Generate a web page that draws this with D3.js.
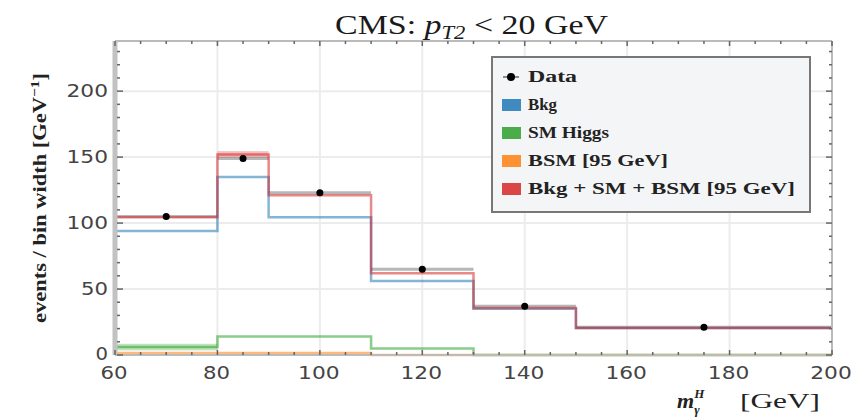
<!DOCTYPE html>
<html>
<head>
<meta charset="utf-8">
<script src="https://cdn.jsdelivr.net/npm/d3@7"></script>
<style>
  html, body { margin: 0; padding: 0; background: #fff; }
  svg { display: block; }
</style>
</head>
<body>
<svg id="chart" width="851" height="419"></svg>
<script>
// Bin edges of the diphoton mass histogram (GeV)
const binEdges = [60, 80, 90, 110, 130, 150, 200];
// Per-bin values, events / bin width
const dataValues  = [105, 149, 123, 65, 37, 21];
const dataErrors  = [1.5, 2.5, 2, 1.5, 1.5, 1];
const bkgValues   = [94, 135, 104.5, 56, 35, 20.5];
const smValues    = [6, 14, 14, 5, 0, 0];
const bsmValues   = [1.5, 1.5, 1.5, 0, 0, 0];
const totalValues = [104.5, 152, 121, 62, 35.6, 20.5];
// Uncertainty half-widths drawn as light bands
const smBand      = [2.5, 0, 0, 0, 0, 0];
const totalBand   = [0, 2.5, 0, 0, 0, 0];

const xTicks = [60, 80, 100, 120, 140, 160, 180, 200];
const yTicks = [0, 50, 100, 150, 200];
const legendLabels = ["Data", "Bkg", "SM Higgs", "BSM [95 GeV]", "Bkg + SM + BSM [95 GeV]"];
const legendColors = [null, "#1f77b4", "#2ca02c", "#ff7f0e", "#d62728"];

const svg = d3.select("#chart");
const plot = { left: 115, right: 832, top: 41, bottom: 355 };

const x = d3.scaleLinear().domain([60, 200]).range([plot.left, plot.right]);
const y = d3.scaleLinear().domain([0, 238]).range([plot.bottom, plot.top]);

// grid
const grid = svg.append("g");
grid.selectAll(".gx").data(xTicks.slice(1, -1)).join("line")
  .attr("x1", d => x(d)).attr("x2", d => x(d))
  .attr("y1", plot.top).attr("y2", plot.bottom)
  .attr("stroke", "#ececec").attr("stroke-width", 2);
grid.selectAll(".gy").data(yTicks.slice(1)).join("line")
  .attr("x1", plot.left).attr("x2", plot.right)
  .attr("y1", d => y(d)).attr("y2", d => y(d))
  .attr("stroke", "#ececec").attr("stroke-width", 2);

// step path from per-bin values
function stepPath(vals) {
  const p = d3.path();
  vals.forEach((v, i) => {
    if (i === 0) p.moveTo(x(binEdges[0]), y(v));
    else p.lineTo(x(binEdges[i]), y(v));
    p.lineTo(x(binEdges[i + 1]), y(v));
  });
  return p.toString();
}

const marks = svg.append("g");

// uncertainty bands
function bands(vals, errs, color) {
  marks.append("g").selectAll("rect")
    .data(vals.map((v, i) => ({ v, e: errs[i], i })).filter(d => d.e > 0))
    .join("rect")
    .attr("x", d => x(binEdges[d.i]))
    .attr("width", d => x(binEdges[d.i + 1]) - x(binEdges[d.i]))
    .attr("y", d => y(d.v + d.e))
    .attr("height", d => y(d.v - d.e) - y(d.v + d.e))
    .attr("fill", color).attr("opacity", 0.3);
}
bands(smValues, smBand, "#2ca02c");
bands(totalValues, totalBand, "#d62728");

// data horizontal bars spanning each bin
marks.append("g").selectAll("line")
  .data(dataValues.map((v, i) => ({ v, i })))
  .join("line")
  .attr("x1", d => x(binEdges[d.i])).attr("x2", d => x(binEdges[d.i + 1]))
  .attr("y1", d => y(d.v)).attr("y2", d => y(d.v))
  .attr("stroke", "#888").attr("stroke-width", 3).attr("opacity", 0.6);

const series = [
  { vals: bsmValues, color: "#ff7f0e" },
  { vals: smValues, color: "#2ca02c" },
  { vals: bkgValues, color: "#1f77b4" },
  { vals: totalValues, color: "#d62728" }
];
series.forEach(s => {
  marks.append("path").attr("d", stepPath(s.vals))
    .attr("fill", "none").attr("stroke", s.color)
    .attr("stroke-width", 2.5).attr("opacity", 0.55);
});

// data points and vertical errors
const centers = dataValues.map((v, i) => ({ v, e: dataErrors[i], c: (binEdges[i] + binEdges[i + 1]) / 2 }));
marks.append("g").selectAll("line").data(centers).join("line")
  .attr("x1", d => x(d.c)).attr("x2", d => x(d.c))
  .attr("y1", d => y(d.v + d.e)).attr("y2", d => y(d.v - d.e))
  .attr("stroke", "#444").attr("stroke-width", 1.5);
marks.append("g").selectAll("circle").data(centers).join("circle")
  .attr("cx", d => x(d.c)).attr("cy", d => y(d.v)).attr("r", 3.5)
  .attr("fill", "#000");

// frame
const frame = svg.append("g");
frame.append("line").attr("x1", plot.left).attr("x2", plot.right).attr("y1", plot.top).attr("y2", plot.top)
  .attr("stroke", "#bbb").attr("stroke-width", 2);
frame.append("line").attr("x1", plot.left).attr("x2", plot.right).attr("y1", plot.bottom).attr("y2", plot.bottom)
  .attr("stroke", "#bbb").attr("stroke-width", 2);
frame.append("line").attr("x1", plot.right).attr("x2", plot.right).attr("y1", plot.top).attr("y2", plot.bottom)
  .attr("stroke", "#bbb").attr("stroke-width", 2);
frame.append("line").attr("x1", plot.left).attr("x2", plot.left).attr("y1", plot.top).attr("y2", plot.bottom)
  .attr("stroke", "#c2c2c2").attr("stroke-width", 5);

// ticks (inward, all four sides)
const xMinor = d3.range(60, 201, 5);
const yMinor = d3.range(0, 238, 10);
const tk = svg.append("g").attr("stroke", "#666").attr("stroke-width", 1.5);
xMinor.forEach(v => {
  const len = v % 20 === 0 ? 5 : 3;
  tk.append("line").attr("x1", x(v)).attr("x2", x(v)).attr("y1", plot.bottom).attr("y2", plot.bottom - len);
  tk.append("line").attr("x1", x(v)).attr("x2", x(v)).attr("y1", plot.top).attr("y2", plot.top + len);
});
yMinor.forEach(v => {
  const len = v % 50 === 0 ? 6 : 3;
  tk.append("line").attr("x1", plot.left + 2).attr("x2", plot.left + 2 + len).attr("y1", y(v)).attr("y2", y(v));
  tk.append("line").attr("x1", plot.right).attr("x2", plot.right - len).attr("y1", y(v)).attr("y2", y(v));
});

// tick labels (wide digits)
const tickFont = "'DejaVu Sans', sans-serif";
const digitW = 14.5;
svg.append("g").selectAll("text").data(xTicks).join("text")
  .attr("x", d => x(d) - String(d).length * digitW / 2).attr("y", 379)
  .attr("font-family", tickFont).attr("font-size", 17)
  .attr("textLength", d => String(d).length * digitW - 2).attr("lengthAdjust", "spacingAndGlyphs")
  .attr("fill", "#444").text(d => d);
svg.append("g").selectAll("text").data(yTicks).join("text")
  .attr("x", d => 110 - String(d).length * digitW).attr("y", d => y(d) + 6 - (d === 0 ? 1 : 0))
  .attr("font-family", tickFont).attr("font-size", 17)
  .attr("textLength", d => String(d).length * digitW - 2).attr("lengthAdjust", "spacingAndGlyphs")
  .attr("fill", "#444").text(d => d);

const serif = "'Liberation Serif', 'Times New Roman', serif";

// title
const title = svg.append("text").attr("x", 335).attr("y", 34)
  .attr("font-family", serif).attr("font-size", 27)
  .attr("fill", "#1a1a1a")
  .attr("textLength", 273).attr("lengthAdjust", "spacingAndGlyphs");
title.append("tspan").text("CMS: ");
title.append("tspan").attr("font-style", "italic").text("p");
title.append("tspan").attr("font-style", "italic").attr("font-size", 18).attr("dy", 5).text("T2");
title.append("tspan").attr("dy", -5).text(" < 20 GeV");

// y label
const yl = svg.append("text")
  .attr("transform", "translate(46,73) rotate(-90)")
  .attr("x", -250)
  .attr("font-family", serif).attr("font-size", 19)
  .attr("font-weight", "bold").attr("fill", "#222")
  .attr("textLength", 250).attr("lengthAdjust", "spacingAndGlyphs");
yl.append("tspan").text("events / bin width [GeV");
yl.append("tspan").attr("font-size", 13).attr("dy", -7).text("−1");
yl.append("tspan").attr("dy", 7).text("]");

// x label
const xl = svg.append("text").attr("x", 677).attr("y", 408)
  .attr("font-family", serif).attr("font-size", 22).attr("fill", "#222");
xl.append("tspan").attr("font-style", "italic").attr("font-weight", "bold").text("m");
xl.append("tspan").attr("font-style", "italic").attr("font-size", 13).attr("dy", -10).attr("font-weight", "bold").text("H");
xl.append("tspan").attr("font-style", "italic").attr("font-size", 13).attr("dx", -10).attr("dy", 16).attr("font-weight", "bold").text("γ");
svg.append("text").attr("x", 740).attr("y", 408)
  .attr("font-family", serif).attr("font-size", 22).attr("fill", "#222")
  .attr("textLength", 80).attr("lengthAdjust", "spacingAndGlyphs")
  .text("[GeV]");

// legend
const lg = svg.append("g");
lg.append("rect").attr("x", 492).attr("y", 57).attr("width", 318).attr("height", 155)
  .attr("fill", "#f4f5f7").attr("stroke", "#777").attr("stroke-width", 2);
const rowY = [77, 105, 133, 161, 189];
const textWidths = [49, 29, 81, 140, 267];
legendLabels.forEach((lab, i) => {
  if (i === 0) {
    lg.append("line").attr("x1", 503).attr("x2", 519).attr("y1", rowY[i]).attr("y2", rowY[i])
      .attr("stroke", "#666").attr("stroke-width", 1.5);
    lg.append("circle").attr("cx", 511).attr("cy", rowY[i]).attr("r", 4).attr("fill", "#000");
  } else {
    lg.append("rect").attr("x", 502).attr("y", rowY[i] - 6).attr("width", 19).attr("height", 12)
      .attr("fill", legendColors[i]).attr("opacity", 0.85);
  }
  lg.append("text").attr("x", 528).attr("y", rowY[i] + 5)
    .attr("font-family", serif).attr("font-size", 17).attr("font-weight", "bold")
    .attr("fill", "#222")
    .attr("textLength", textWidths[i]).attr("lengthAdjust", "spacingAndGlyphs")
    .text(lab);
});
</script>
</body>
</html>
